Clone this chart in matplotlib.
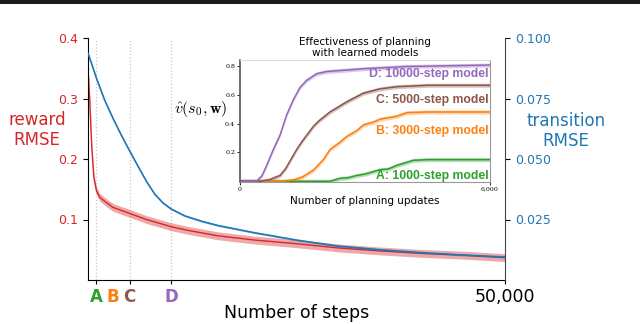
import numpy as np
import matplotlib
matplotlib.use("Agg")
import matplotlib.pyplot as plt
from matplotlib.patches import Rectangle

# ---------------- main chart data ----------------
steps_reward = [0, 200, 450, 700, 1000, 1400, 2000, 3000, 4000, 5000, 6000,
                7000, 8000, 10000, 12000, 13600, 15600, 20000, 25000, 30000, 35000, 40000,
                45000, 50000]
reward_rmse = [0.35, 0.30, 0.22, 0.17, 0.148, 0.137, 0.13, 0.12, 0.115,
               0.11, 0.105, 0.1, 0.096, 0.088, 0.082, 0.078, 0.073, 0.066, 0.06, 0.053, 0.048,
               0.044, 0.041, 0.037]
reward_err = 0.0065

steps_transition = [0, 1000, 2000, 3000, 4000, 5000, 6000, 7000, 8000, 9000, 10000,
                    11600, 13600, 15600, 20000, 25000, 30000, 35000, 40000, 45000, 50000]
transition_rmse = [0.0938, 0.0835, 0.0743, 0.0668, 0.0598, 0.0533, 0.047, 0.0408, 0.0355,
                   0.0318, 0.0293, 0.0265, 0.0243, 0.0225, 0.0195, 0.0165, 0.014, 0.0125,
                   0.0113, 0.0103, 0.0095]
transition_err = 0.0004

marker_steps = [1000, 3000, 5000, 10000, 50000]
marker_labels = ['A', 'B', 'C', 'D', '50,000']
marker_colors = ['tab:green', 'tab:orange', 'tab:brown', 'tab:purple', 'black']
dotted_steps = [1000, 5000, 10000]

reward_ticks = [0.1, 0.2, 0.3, 0.4]
transition_ticks = [0.025, 0.05, 0.075, 0.1]

# ---------------- inset data ----------------
d_x = [0, 400, 530, 640, 800, 960, 1120, 1280, 1440, 1600, 1840, 2080, 3000, 4000, 5000, 6000]
d_y = [0, 0, 0.04, 0.11, 0.22, 0.32, 0.46, 0.565, 0.65, 0.70, 0.745, 0.76, 0.78, 0.795, 0.80, 0.805]
c_x = [0, 500, 700, 960, 1100, 1200, 1360, 1500, 1760, 1900, 2160, 2560, 2960, 3360, 3760, 4500, 6000]
c_y = [0, 0, 0.01, 0.04, 0.09, 0.14, 0.22, 0.28, 0.38, 0.42, 0.48, 0.55, 0.61, 0.64, 0.655, 0.665, 0.665]
b_x = [0, 1000, 1300, 1500, 1760, 2000, 2160, 2400, 2560, 2800, 2960, 3200, 3360, 3760, 4000, 4500, 6000]
b_y = [0, 0, 0.01, 0.03, 0.077, 0.15, 0.22, 0.27, 0.31, 0.35, 0.39, 0.41, 0.43, 0.45, 0.475, 0.48, 0.48]
a_x = [0, 2160, 2400, 2600, 2800, 3000, 3360, 3560, 3760, 4160, 4500, 6000]
a_y = [0, 0, 0.02, 0.025, 0.04, 0.05, 0.08, 0.085, 0.11, 0.145, 0.15, 0.15]
inset_err = 0.014

inset_labels = ['D: 10000-step model', 'C: 5000-step model', 'B: 3000-step model', 'A: 1000-step model']
inset_colors = ['tab:purple', 'tab:brown', 'tab:orange', 'tab:green']

# ---------------- figure ----------------
fig = plt.figure(figsize=(6.4, 3.24), dpi=100)
W, H = 640, 324

ax = fig.add_axes([88 / W, 1 - 280 / H, (505 - 88) / W, (280 - 38) / H])
ax2 = ax.twinx()

for s in dotted_steps:
    ax.axvline(s, color='#c8c8c8', ls=':', lw=0.9, zorder=0)

r = np.array(reward_rmse)
ax.fill_between(steps_reward, r - reward_err, r + reward_err, color='tab:red', alpha=0.4, lw=0)
ax.plot(steps_reward, r, color='tab:red', lw=1.0)

t = np.array(transition_rmse)
ax2.fill_between(steps_transition, t - transition_err, t + transition_err, color='tab:blue', alpha=0.35, lw=0)
ax2.plot(steps_transition, t, color='tab:blue', lw=1.2)

ax.set_xlim(0, 50000)
ax.set_ylim(0, 0.4)
ax2.set_ylim(0, 0.1)

ax.set_yticks(reward_ticks)
ax.set_yticklabels([f'{v:.1f}' for v in reward_ticks], color='tab:red', fontsize=9)
ax2.set_yticks(transition_ticks)
ax2.set_yticklabels([f'{v:.3f}' for v in transition_ticks], color='tab:blue', fontsize=9)

ax.set_xticks(marker_steps)
ax.set_xticklabels(marker_labels)
for lbl, col in zip(ax.get_xticklabels(), marker_colors):
    lbl.set_color(col)
    if lbl.get_text() == '50,000':
        lbl.set_fontsize(12.5)
    else:
        lbl.set_fontsize(12)
        lbl.set_fontweight('bold')
ax.xaxis.get_major_ticks()[1].tick1line.set_visible(False)
ax.tick_params(axis='x', length=3, pad=2.5)
ax.set_xlabel('Number of steps', fontsize=12.5, labelpad=-1.5)

for sp in ['top', 'right']:
    ax.spines[sp].set_visible(False)
for sp in ['top', 'left', 'bottom']:
    ax2.spines[sp].set_visible(False)
ax2.spines['right'].set_color('#444444')
ax.spines['left'].set_color('black')

fig.text(37 / W, 1 - 130 / H, 'reward\nRMSE', ha='center', va='center',
         color='tab:red', fontsize=12, linespacing=1.15)
fig.text(566 / W, 1 - 131 / H, 'transition\nRMSE', ha='center', va='center',
         color='tab:blue', fontsize=12, linespacing=1.15)

# ---------------- inset ----------------
axi = fig.add_axes([240 / W, 1 - 182 / H, 250 / W, 122 / H])
for xs, ys, col in [(a_x, a_y, 'tab:green'), (b_x, b_y, 'tab:orange'),
                    (c_x, c_y, 'tab:brown'), (d_x, d_y, 'tab:purple')]:
    ya = np.array(ys)
    axi.fill_between(xs, ya - inset_err, ya + inset_err, color=col, alpha=0.35, lw=0)
    axi.plot(xs, ya, color=col, lw=1.1)
axi.set_xlim(0, 6000)
axi.set_ylim(-0.005, 0.84)
axi.set_xticks([0, 6000])
axi.set_xticklabels(['0', '6,000'], fontsize=4.5, family='DejaVu Serif')
axi.set_yticks([0.2, 0.4, 0.6, 0.8])
axi.set_yticklabels(['0.2', '0.4', '0.6', '0.8'], fontsize=4.5, family='DejaVu Serif')
axi.tick_params(length=2, width=0.6, pad=1.5)
for sp in axi.spines.values():
    sp.set_color('#999999')
    sp.set_linewidth(0.8)
axi.spines['left'].set_color('#555555')
axi.spines['left'].set_linewidth(1.2)
axi.spines['top'].set_color('#dddddd')
axi.set_title('Effectiveness of planning\nwith learned models', fontsize=7.5, pad=3, linespacing=1.15)
axi.set_xlabel('Number of planning updates', fontsize=7.5, labelpad=3)

label_levels = [0.74, 0.565, 0.35, 0.035]
for txt, col, yv in zip(inset_labels, inset_colors, label_levels):
    axi.text(5960, yv, txt, ha='right', va='center', color=col,
             fontsize=8.8, fontweight='bold', family='Liberation Sans')

fig.text(201 / W, 1 - 109 / H, r'$\hat{v}(s_0,\mathbf{w})$', ha='center', va='center',
         fontsize=11.5, math_fontfamily='cm')

# top dark border bar
fig.add_artist(Rectangle((0, 1 - 3.5 / H), 1, 3.5 / H, transform=fig.transFigure,
                         color='#1a1a1a', lw=0))

fig.savefig('out.png', dpi=100)
